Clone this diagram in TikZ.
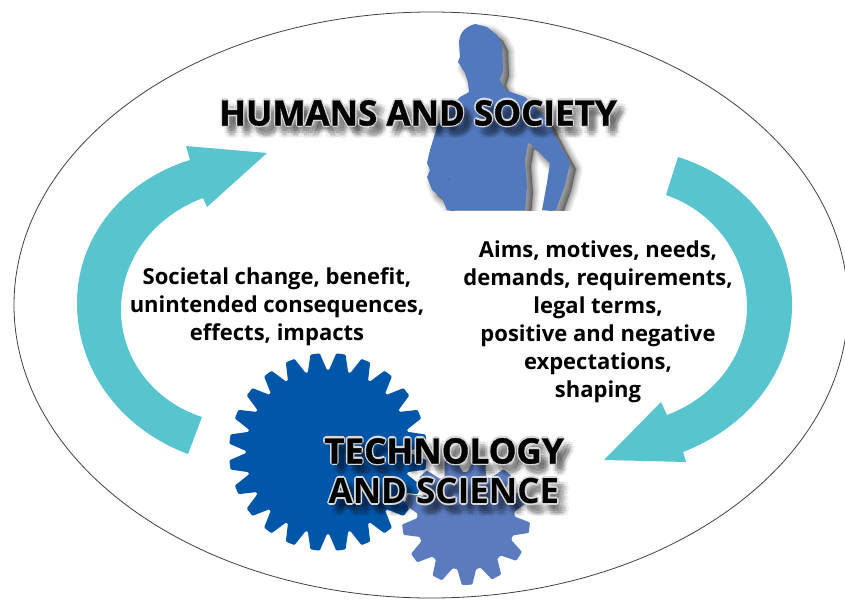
\documentclass[tikz,border=0pt]{standalone}
\usepackage{fontspec}
\setmainfont{Open Sans}
\definecolor{arrowc}{HTML}{57C4CE}
\definecolor{personc}{HTML}{5279BE}
\definecolor{biggear}{HTML}{0056A8}
\definecolor{smallgear}{HTML}{5B7BBE}
\tikzset{
  bodytext/.style={font=\fontsize{22}{28}\selectfont\bfseries,align=center,text=black,inner sep=0pt},
  titletext/.style={font=\fontsize{35}{40}\selectfont\bfseries,align=center,inner sep=0pt},
}
\newcommand{\personpath}{
  (475,24) .. controls (465,27) and (460,32) .. (459,42) -- (460,57) -- (458,62) -- (465,73) -- (468,83) -- (469,92)
  -- (460,97) -- (447,110) -- (437,127) -- (430,150) -- (427,163) -- (430,170) -- (427,177) -- (432,190) -- (442,198) -- (447,210)
  -- (525,210) -- (527,187) -- (525,160) -- (528,143) -- (532,145) -- (540,153) -- (550,163) -- (547,183) -- (542,210)
  -- (556,210) -- (565,185) -- (570,163) -- (560,145) -- (547,120) -- (525,97) -- (505,90) -- (500,80) -- (503,70)
  -- (502,45) -- (497,35) -- (487,27) -- cycle}
\newcommand{\gearshape}[9]{% color, cx, cy, ro, ri, n, phase, rootfrac, tipfrac
  \fill[#1,rounded corners=1pt,shift={(#2,#3)}]
    ({#7-#8*360/#6}:#5)
    \foreach \i in {0,...,\numexpr#6-1\relax}{
      -- ({#7+(\i-#8)*360/#6}:#5)
      -- ({#7+(\i-#9)*360/#6}:#4)
      -- ({#7+(\i+#9)*360/#6}:#4)
      -- ({#7+(\i+#8)*360/#6}:#5)
    } -- cycle;}
\newcommand{\softtitle}[4]{% name, x, y, text
  \foreach \a/\k in {0/a,45/b,90/c,135/d,180/e,225/f,270/g,315/h}{
    \node[titletext,text=black,text opacity=.06] (#1s\k) at ([shift={(\a:5)}]#2+7,#3+8) {#4};
    \node[titletext,text=black,text opacity=.07] (#1t\k) at ([shift={(\a:2.5)}]#2+7,#3+8) {#4};
  }
  \foreach \a/\k in {0/a,45/b,90/c,135/d,180/e,225/f,270/g,315/h}{
    \node[titletext,text=white!85!black] (#1w\k) at ([shift={(\a:1.6)}]#2,#3) {#4};
  }
  \node[titletext,text=black] (#1) at (#2,#3) {\addfontfeature{FakeBold=1}#4};
}
\begin{document}
\begin{tikzpicture}[x=1pt,y=-1pt]
\useasboundingbox (0,0) rectangle (845,599);
\fill[white] (0,0) rectangle (845,599);
% ellipse
\begin{scope}
\clip (0,0) rectangle (845,599);
\draw[black!75,line width=.8pt] (431,305) ellipse [x radius=417,y radius=293];
\end{scope}
% person shadow
\begin{scope}
\clip (0,0) rectangle (845,210);
\begin{scope}[shift={(6,6)}]
\foreach \w/\o in {14/.05,11/.07,8/.08,5/.10,2/.12}{
  \filldraw[black,opacity=\o,line width=\w pt,line join=round] \personpath;
}
\end{scope}
\end{scope}
\fill[personc] \personpath;
\fill[black!60] (449,179) circle (1);
% arrows
\fill[arrowc] (678,157) .. controls (745,178) and (792,235) .. (792,305)
  .. controls (792,375) and (745,428) .. (683,452) -- (686,462) -- (604,460) -- (661,402) -- (667,415)
  .. controls (715,397) and (747,355) .. (747,307)
  .. controls (747,255) and (713,211) .. (666,195) -- cycle;
\fill[arrowc] (188,454) .. controls (123,430) and (77,372) .. (77,303)
  .. controls (77,235) and (125,180) .. (190,160) -- (186,146) -- (267,153) -- (207,207) -- (203,198)
  .. controls (155,216) and (121,258) .. (121,310)
  .. controls (121,360) and (155,402) .. (202,417) -- cycle;
% gears
\gearshape{smallgear}{466}{521}{64}{49}{13}{6}{0.40}{0.17}
\gearshape{biggear}{328}{452}{99}{82}{24}{7.5}{0.45}{0.18}
% labels
\softtitle{humans}{418}{113}{HUMANS AND SOCIETY}
\softtitle{tech}{444}{471}{TECHNOLOGY\\AND SCIENCE}
\node[bodytext] (left) at (277,307) {Societal change, benefit,\\unintended consequences,\\effects, impacts};
\node[bodytext] (right) at (598,322) {Aims, motives, needs,\\demands, requirements,\\legal terms,\\positive and negative\\expectations,\\shaping};
\end{tikzpicture}
\end{document}
